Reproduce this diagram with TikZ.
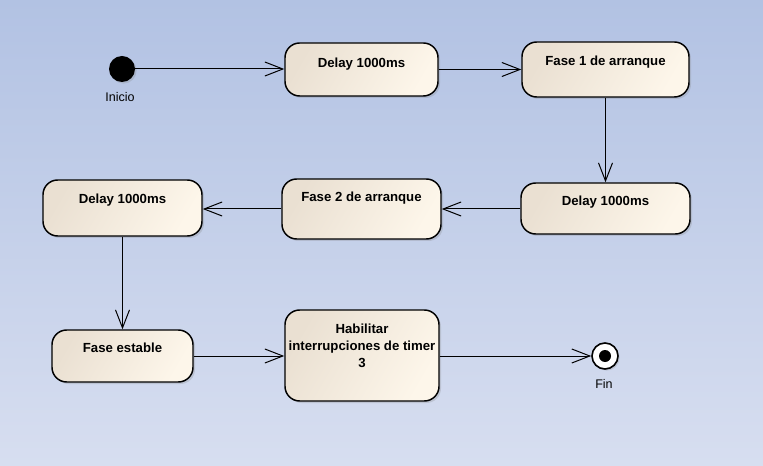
\documentclass[tikz,border=0pt]{standalone}
\usepackage{fontspec}
\setmainfont{Liberation Sans}
\usetikzlibrary{arrows.meta,shadows}
\definecolor{bgtop}{RGB}{178,194,227}
\definecolor{bgbot}{RGB}{215,222,240}
\definecolor{stL}{RGB}{234,224,210}
\definecolor{stR}{RGB}{253,246,234}
\tikzset{
  statebox/.style 2 args={draw=black, line width=1.1pt, rounded corners=11pt,
    left color=stL, right color=stR, shading angle=60,
    minimum width=#1*0.75pt, minimum height=#2*0.75pt, inner sep=0pt,
    drop shadow={shadow xshift=1.5pt, shadow yshift=-1.5pt, opacity=0.25}},
  statetext/.style={font=\bfseries\fontsize{9.9pt}{12.75pt}\selectfont, anchor=base, inner sep=0pt, align=center},
  lbl/.style={font=\fontsize{9.4pt}{11pt}\selectfont, anchor=base, inner sep=0pt},
  conn/.style={draw=black, line width=0.75pt, -{Straight Barb[length=13.5pt, width=10.5pt, line width=0.75pt]}},
}
\begin{document}
\begin{tikzpicture}[x=0.75pt, y=-0.75pt]
  \shade[top color=bgtop, bottom color=bgbot] (0,0) rectangle (763,466);
  \useasboundingbox (0,0) rectangle (763,466);

  % initial and final
  \node[circle, fill=black, minimum size=19.5pt, inner sep=0pt,
        drop shadow={shadow xshift=1.2pt, shadow yshift=-1.2pt, opacity=0.25}] (init) at (122,69) {};
  \node[lbl] (inicio) at (120,102) {Inicio};
  \node[circle, draw=black, line width=1.2pt, fill=white!97!bgbot, minimum size=19.5pt, inner sep=0pt,
        drop shadow={shadow xshift=1.2pt, shadow yshift=-1.2pt, opacity=0.25}] (fin) at (605,356) {};
  \fill[black] (fin.center) circle [radius=4.5pt];
  \node[lbl] (finlbl) at (604,388) {Fin};

  % states
  \node[statebox={153}{53}] (b1) at (361.5,69.5) {};
  \node[statetext] (t1) at (361.5,67.5) {Delay 1000ms};
  \node[statebox={167}{55}] (b2) at (605.5,69.5) {};
  \node[statetext] (t2) at (605.5,65.5) {Fase 1 de arranque};
  \node[statebox={169}{51}] (b3) at (605.5,208.5) {};
  \node[statetext] (t3) at (605.5,206) {Delay 1000ms};
  \node[statebox={159}{60}] (b4) at (361.5,209) {};
  \node[statetext] (t4) at (361.5,201.5) {Fase 2 de arranque};
  \node[statebox={159}{56}] (b5) at (122.5,208) {};
  \node[statetext] (t5) at (122.5,203.5) {Delay 1000ms};
  \node[statebox={141}{52}] (b6) at (122.5,356) {};
  \node[statetext] (t6) at (122.5,352.5) {Fase estable};
  \node[statebox={154}{91}] (b7) at (362,355.5) {};
  \node[statetext, anchor=center] (t7) at (362,346) {Habilitar\\interrupciones de timer\\3};

  % transitions
  \draw[conn] (init) -- (b1.west |- init);
  \draw[conn] (b1.east) -- (b2.west);
  \draw[conn] (b2.south) -- (b3.north);
  \draw[conn] (b3.west |- b4) -- (b4.east);
  \draw[conn] (b4.west) -- (b4.west -| b5.east);
  \draw[conn] (b5.south) -- (b6.north);
  \draw[conn] (b6.east) -- (b6.east -| b7.west);
  \draw[conn] (b7.east |- fin) -- (fin);
\end{tikzpicture}
\end{document}
